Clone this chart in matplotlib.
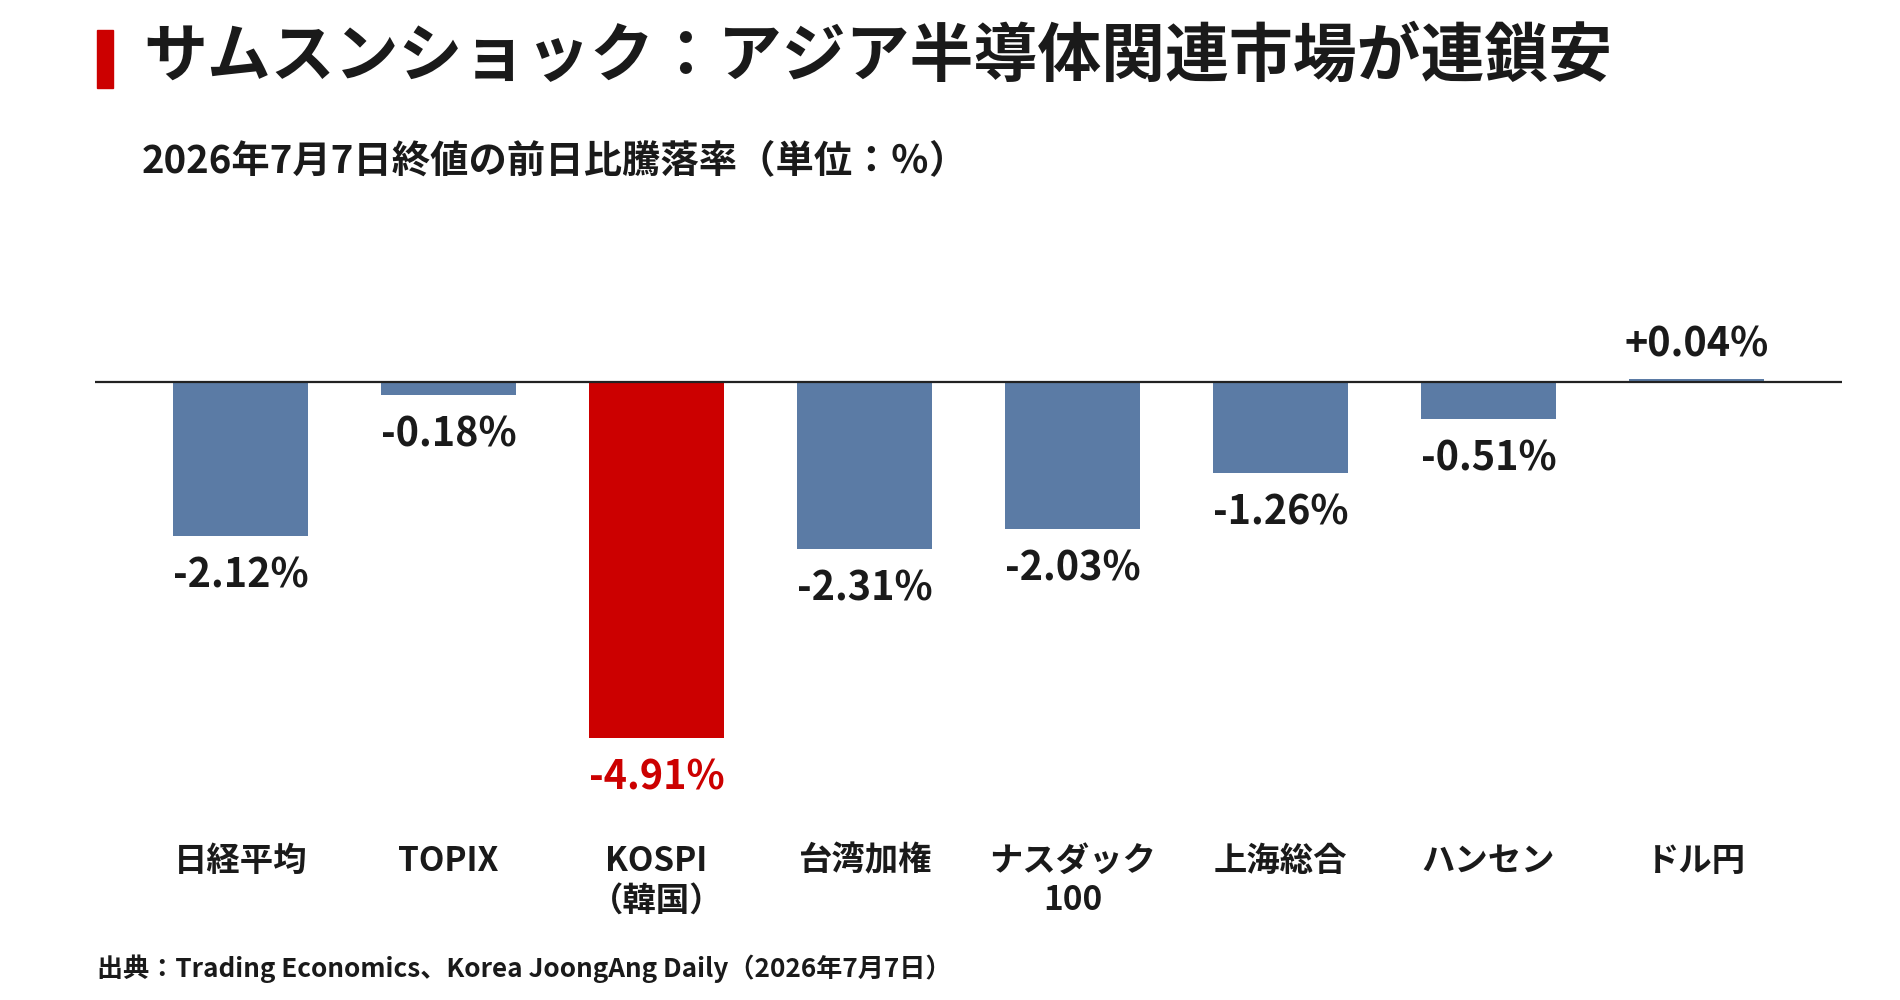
import numpy as np
import matplotlib
matplotlib.use('Agg')
import matplotlib.pyplot as plt
from matplotlib.patches import Rectangle

plt.rcParams['font.family'] = ['Noto Sans CJK JP', 'DejaVu Sans']

# データ
markets = ['日経平均', 'TOPIX', 'KOSPI\n（韓国）', '台湾加権', 'ナスダック\n100', '上海総合', 'ハンセン', 'ドル円']
changes = [-2.12, -0.18, -4.91, -2.31, -2.03, -1.26, -0.51, 0.04]
value_labels = ['-2.12%', '-0.18%', '-4.91%', '-2.31%', '-2.03%', '-1.26%', '-0.51%', '+0.04%']
highlight = 'KOSPI\n（韓国）'

BLUE = '#5b7ba5'
RED = '#cc0000'
TEXT = '#1a1a1a'

fig = plt.figure(figsize=(19, 10), dpi=100)
ax = fig.add_axes([0.05, 0.183, 0.9195, 0.54375])

x = np.arange(len(markets))
colors = [RED if m == highlight else BLUE for m in markets]
ax.bar(x, changes, width=0.65, color=colors, zorder=2)
ax.axhline(0, color='#222222', lw=1.6, zorder=3)

for xi, v, lab, c in zip(x, changes, value_labels, colors):
    tc = RED if c == RED else TEXT
    if v < 0:
        ax.annotate(lab, xy=(xi, v), xytext=(0, -14), textcoords='offset points',
                    ha='center', va='top', fontsize=28.5, fontweight='bold', color=tc)
    else:
        ax.annotate(lab, xy=(xi, v), xytext=(0, 10), textcoords='offset points',
                    ha='center', va='bottom', fontsize=28.5, fontweight='bold', color=tc)

ax.set_xlim(-0.7, 7.7)
ax.set_ylim(-6, 1.5)
ax.set_xticks(x, markets, fontsize=24, fontweight='bold', color=TEXT, linespacing=1.25)
ax.tick_params(axis='x', length=0, pad=20)
ax.set_yticks([])
for s in ax.spines.values():
    s.set_visible(False)

# タイトル
fig.add_artist(Rectangle((97 / 1900, 1 - 88 / 1000), 16 / 1900, 58 / 1000,
                         transform=fig.transFigure, color=RED))
fig.text(143 / 1900, 1 - 57 / 1000, 'サムスンショック：アジア半導体関連市場が連鎖安',
         fontsize=46, fontweight='bold', color=TEXT, va='center', ha='left')
fig.text(142 / 1900, 1 - 162 / 1000, '2026年7月7日終値の前日比騰落率（単位：％）',
         fontsize=27.6, fontweight='bold', color=TEXT, va='center', ha='left')
fig.text(97 / 1900, 1 - 969 / 1000,
         '出典：Trading Economics、Korea JoongAng Daily（2026年7月7日）',
         fontsize=18.8, fontweight='bold', color=TEXT, va='center', ha='left')

fig.savefig('out.png', dpi=100, facecolor='white')
